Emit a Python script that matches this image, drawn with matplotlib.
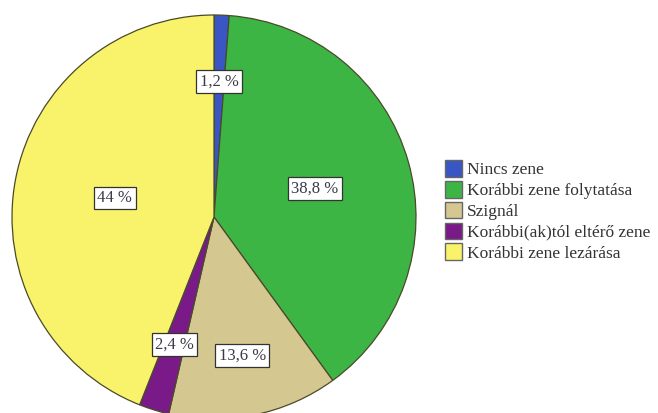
import numpy as np
import matplotlib
matplotlib.use("Agg")
import matplotlib.pyplot as plt
from matplotlib.patches import Patch

categories = ["Nincs zene", "Korábbi zene folytatása", "Szignál",
              "Korábbi(ak)tól eltérő zene", "Korábbi zene lezárása"]
values = [1.2, 38.8, 13.6, 2.4, 44.0]
pct_labels = ["1,2 %", "38,8 %", "13,6 %", "2,4 %", "44 %"]
colors = ["#3a56c4", "#3cb545", "#d4c78f", "#7a1a88", "#f9f36b"]
label_r = [0.67, 0.52, 0.70, 0.66, 0.50]

plt.rcParams['font.family'] = ['Liberation Serif', 'DejaVu Serif']

fig = plt.figure(figsize=(6.58, 4.13), dpi=100)
ax = fig.add_axes([0, 0, 1, 1])

cx, cy, r = 214, 196, 202
wedges, _ = ax.pie(values, colors=colors, startangle=90, counterclock=False,
                   center=(cx, cy), radius=r, frame=True,
                   wedgeprops=dict(edgecolor='#4a4a2a', linewidth=0.9))
ax.set_xlim(0, 658)
ax.set_ylim(0, 413)
ax.set_aspect('equal')
ax.axis('off')

for w, lab, f in zip(wedges, pct_labels, label_r):
    ang = np.deg2rad((w.theta1 + w.theta2) / 2)
    ax.text(cx + f * r * np.cos(ang), cy + f * r * np.sin(ang), lab,
            ha='center', va='center', fontsize=12, color='#3a3a4a',
            bbox=dict(boxstyle='square,pad=0.2', fc='white', ec='#333333', lw=0.9))

handles = [Patch(facecolor=c, edgecolor='#666666', lw=1.0) for c in colors]
fig.legend(handles, categories, loc='upper left', bbox_to_anchor=(445 / 658, 1 - 160 / 413),
           frameon=False, fontsize=12.5, handlelength=1.0, handleheight=1.1,
           handletextpad=0.25, labelspacing=0.15, borderaxespad=0, borderpad=0,
           labelcolor='#333333')

fig.savefig("out.png", dpi=100)
